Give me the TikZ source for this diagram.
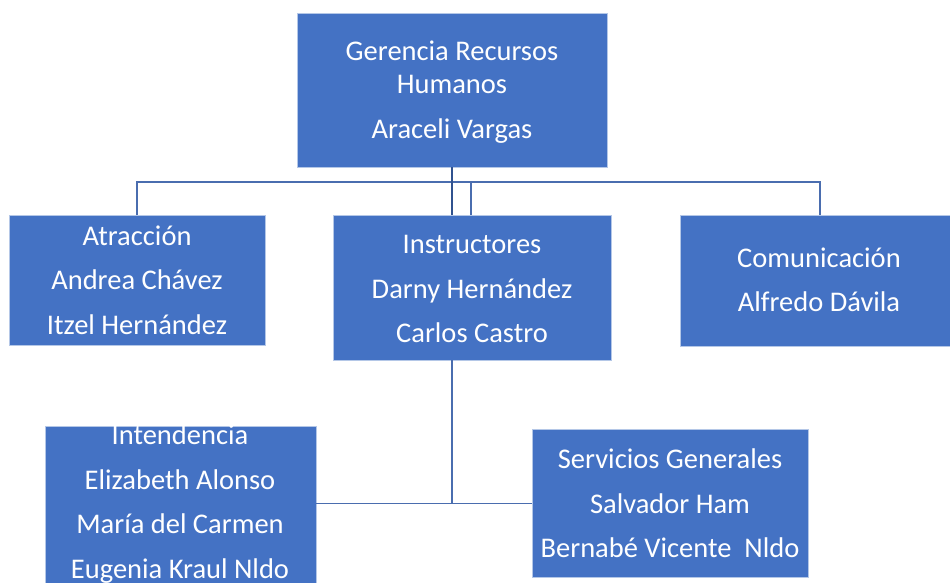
\documentclass[tikz,border=0pt]{standalone}
\usepackage{fontspec}
\setmainfont{Carlito}
\definecolor{boxblue}{HTML}{4472C4}
\definecolor{boxedge}{HTML}{B4C7E7}
\definecolor{linkblue}{HTML}{4A6DAF}
\definecolor{linkdark}{HTML}{30528F}
\begin{document}
\begin{tikzpicture}[x=1pt,y=-1pt,
  orgbox/.style={fill=boxblue,draw=boxedge,line width=0.8pt,rectangle,inner sep=0pt},
  txt/.style={text=white,align=center,font=\fontsize{28.5}{44.5}\selectfont,inner sep=0pt},
  link/.style={draw=linkblue,line width=1.6pt},
  linkd/.style={draw=linkdark,line width=2pt}]
\useasboundingbox (0,0) rectangle (950,582);
% boxes
\path[orgbox] (297,13) rectangle (607,167);
\node[inner sep=0pt,minimum width=310pt,minimum height=154pt] (top) at (452,90) {};
\path[orgbox] (9,215) rectangle (265,345);
\node[inner sep=0pt,minimum width=256pt,minimum height=130pt] (atr) at (137,280) {};
\path[orgbox] (333,215) rectangle (611,360);
\node[inner sep=0pt,minimum width=278pt,minimum height=145pt] (ins) at (472,287.5) {};
\path[orgbox] (680,215) rectangle (951,346);
\node[inner sep=0pt,minimum width=271pt,minimum height=131pt] (com) at (815.5,280.5) {};
\path[orgbox] (45,426) rectangle (316,583);
\node[inner sep=0pt,minimum width=271pt,minimum height=157pt] (int) at (180.5,504.5) {};
\path[orgbox] (532,429) rectangle (808,577);
\node[inner sep=0pt,minimum width=276pt,minimum height=148pt] (ser) at (670,503) {};
% texts
\node[txt] (topt) at (452,92) {Gerencia Recursos\\[-11.5pt]Humanos\\Araceli Vargas};
\node[txt] (atrt) at (137,280) {Atracción\\Andrea Chávez\\Itzel Hernández};
\node[txt] (inst) at (472,289) {Instructores\\Darny Hernández\\Carlos Castro};
\node[txt] (comt) at (819,280) {Comunicación\\Alfredo Dávila};
\node[txt] (intt) at (180,504) {Intendencia\\Elizabeth Alonso\\María del Carmen\\Eugenia Kraul Nldo};
\node[txt] (sert) at (670,503.5) {Servicios Generales\\Salvador Ham\\Bernabé Vicente\ \ Nldo};
% connectors
\coordinate (h) at (452,182);
\draw[link] (atr.north -| 137,0) |- (h) -| (com.north -| 820,0);
\draw[link] (471,182) -- (ins.north -| 471,0);
\draw[linkd] (top.south -| 452,0) -- (ins.north -| 452,0);
\coordinate (j) at (452,503.5);
\draw[link] (ins.south -| 452,0) -- (j);
\draw[link] (int.east |- j) -- (j) -- (ser.west |- j);
\end{tikzpicture}
\end{document}
